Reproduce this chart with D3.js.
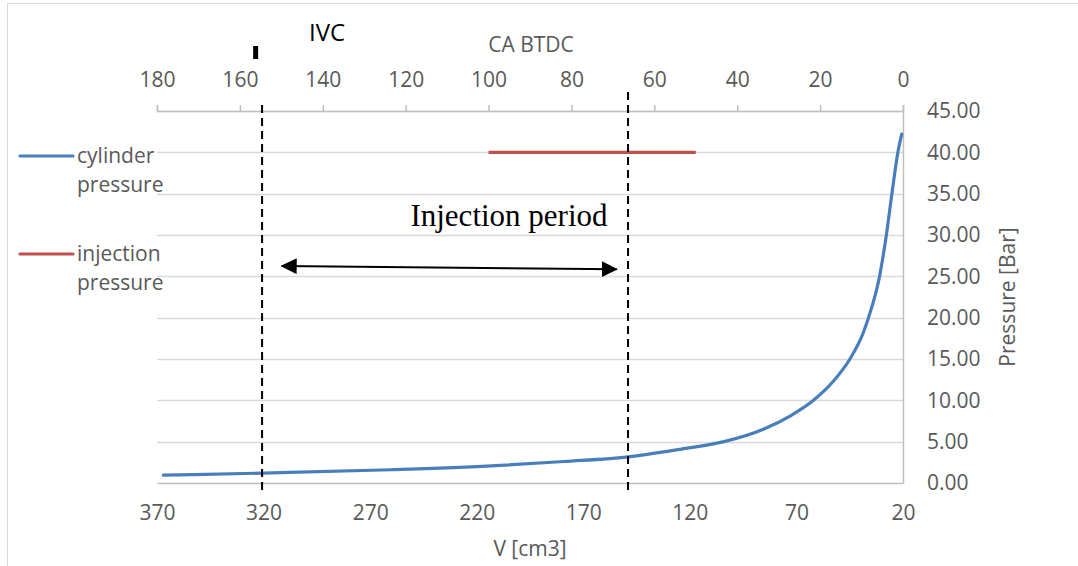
<!DOCTYPE html>
<html><head><meta charset="utf-8">
<script src="https://cdn.jsdelivr.net/npm/d3@7"></script>
<style>
html,body{margin:0;padding:0;background:#fff;}
svg{display:block;}
text{font-family:"Open Sans",sans-serif;}
</style></head>
<body><svg id="c" width="1078" height="566"></svg>
<script>
// ---- data ----
const volume = [367, 320, 260, 211, 179, 148, 124, 104, 85.5, 73, 62, 52.7, 44.9, 38.6, 36.2, 31.0, 27.8, 25.2, 22.4, 20.6];
const cylPressure = [0.95, 1.2, 1.6, 2.1, 2.6, 3.2, 4.1, 5.0, 6.5, 8.1, 10.0, 12.3, 15.0, 18.2, 20.0, 25.0, 30.0, 35.0, 40.0, 42.2];
const injCA = [100, 50];
const injPressure = [40, 40];
const vTicks = [370, 320, 270, 220, 170, 120, 70, 20];
const caTicks = [180, 160, 140, 120, 100, 80, 60, 40, 20, 0];
const pTicks = [0, 5, 10, 15, 20, 25, 30, 35, 40, 45];
const markerV = [320.7, 149];          // dashed lines (V axis)
const ivcCA = 156.2;                    // IVC marker (CA axis)
const arrowV = [311.5, 154.3];          // injection period arrow ends
const arrowP = [26.25, 25.85];
const seriesNames = ["cylinder pressure", "injection pressure"];

// ---- layout ----
const L = 157, R = 903, T = 111, B = 483;
const FS = "21px";
const svg = d3.select("#c");
const x = d3.scaleLinear().domain([370, 20]).range([L, R]);
const xCA = d3.scaleLinear().domain([180, 0]).range([L, R]);
const y = d3.scaleLinear().domain([0, 45]).range([B, T]);
const grey = "#595959", axisCol = "#bfbfbf", gridCol = "#d9d9d9";
const blue = "#4a7ebb", red = "#c0504d";

// outer border
svg.append("rect").attr("x", 7.5).attr("y", 3.5).attr("width", 1100).attr("height", 600)
  .attr("fill", "none").attr("stroke", gridCol).attr("stroke-width", 1);

// gridlines
svg.append("g").selectAll("line").data(pTicks.filter(d => d > 0)).join("line")
  .attr("x1", L).attr("x2", R).attr("y1", d => Math.round(y(d)) + 0.5).attr("y2", d => Math.round(y(d)) + 0.5)
  .attr("stroke", gridCol).attr("stroke-width", 1.3);

// bottom axis (V)
const gB = svg.append("g").attr("transform", `translate(0,${B})`)
  .call(d3.axisBottom(x).tickValues(vTicks).tickSize(0).tickPadding(22).tickFormat(d3.format("d")));
gB.select(".domain").attr("stroke", axisCol).attr("stroke-width", 1.5);
gB.selectAll("text").attr("fill", grey).style("font-size", FS).style("font-family", "Open Sans");

// top axis (CA BTDC)
const gT = svg.append("g").attr("transform", `translate(0,${T})`)
  .call(d3.axisTop(xCA).tickValues(caTicks).tickSize(6).tickSizeOuter(6).tickPadding(18).tickFormat(d3.format("d")));
gT.select(".domain").attr("stroke", axisCol).attr("stroke-width", 1.5);
gT.selectAll(".tick line").attr("stroke", axisCol).attr("stroke-width", 1.5);
gT.selectAll("text").attr("fill", grey).style("font-size", FS).style("font-family", "Open Sans");

// right axis (pressure)
const gR = svg.append("g").attr("transform", `translate(${R},0)`)
  .call(d3.axisRight(y).tickValues(pTicks).tickSize(0).tickPadding(24).tickFormat(d3.format(".2f")));
gR.select(".domain").attr("stroke", axisCol).attr("stroke-width", 1.5);
gR.selectAll("text").attr("fill", grey).style("font-size", FS).style("font-family", "Open Sans");

// axis titles
svg.append("text").attr("x", 531).attr("y", 52).attr("text-anchor", "middle")
  .attr("fill", grey).style("font-size", FS).text("CA BTDC");
svg.append("text").attr("x", 530).attr("y", 556).attr("text-anchor", "middle")
  .attr("fill", grey).style("font-size", FS).text("V [cm3]");
svg.append("text").attr("transform", "translate(1015,297) rotate(-90)").attr("text-anchor", "middle")
  .attr("fill", grey).style("font-size", FS).text("Pressure [Bar]");

// series
const cyl = volume.map((v, i) => [v, cylPressure[i]]).sort((a, b) => a[0] - b[0]);
svg.append("path").datum(cyl)
  .attr("d", d3.line().x(d => x(d[0])).y(d => y(d[1])).curve(d3.curveMonotoneX))
  .attr("fill", "none").attr("stroke", blue).attr("stroke-width", 3.2).attr("stroke-linecap", "round");
const inj = injCA.map((c, i) => [c, injPressure[i]]);
svg.append("path").datum(inj)
  .attr("d", d3.line().x(d => xCA(d[0])).y(d => y(d[1])))
  .attr("fill", "none").attr("stroke", red).attr("stroke-width", 3.2);

// dashed marker lines
const dashTop = [105, 92];
svg.append("g").selectAll("line").data(markerV).join("line")
  .attr("x1", d => x(d)).attr("x2", d => x(d))
  .attr("y1", (d, i) => dashTop[i]).attr("y2", 490)
  .attr("stroke", "#000").attr("stroke-width", 2).attr("stroke-dasharray", "8,5");

// IVC marker
svg.append("rect").attr("x", xCA(ivcCA) - 2.5).attr("y", 46).attr("width", 5).attr("height", 13).attr("fill", "#000");
svg.append("text").attr("x", 327).attr("y", 41).attr("text-anchor", "middle")
  .attr("fill", "#000").style("font-size", "24px").text("IVC");

// injection period arrow
const defs = svg.append("defs");
defs.append("marker").attr("id", "ah").attr("viewBox", "0 0 16 16").attr("refX", 15).attr("refY", 8)
  .attr("markerWidth", 16).attr("markerHeight", 16).attr("markerUnits", "userSpaceOnUse").attr("orient", "auto-start-reverse")
  .append("path").attr("d", "M0,0 L16,8 L0,16 Z").attr("fill", "#000");
svg.append("line")
  .attr("x1", x(arrowV[0])).attr("y1", y(arrowP[0])).attr("x2", x(arrowV[1])).attr("y2", y(arrowP[1]))
  .attr("stroke", "#000").attr("stroke-width", 2)
  .attr("marker-start", "url(#ah)").attr("marker-end", "url(#ah)");
svg.append("text").attr("x", 509).attr("y", 226).attr("text-anchor", "middle")
  .attr("fill", "#000").style("font-family", "'Liberation Serif','Times New Roman',serif").style("font-size", "31px")
  .text("Injection period");

// legend
const leg = [
  {c: blue, y: 156, lines: ["cylinder", "pressure"]},
  {c: red, y: 254, lines: ["injection", "pressure"]}
];
leg.forEach((d, i) => {
  svg.append("line").attr("x1", 20).attr("x2", 73).attr("y1", d.y).attr("y2", d.y)
    .attr("stroke", d.c).attr("stroke-width", 3.2).attr("stroke-linecap", "round");
  d.lines.forEach((t, j) => {
    svg.append("text").attr("x", 77).attr("y", d.y + 7 + j * 29)
      .attr("fill", grey).style("font-size", FS).text(t);
  });
});
</script></body></html>
